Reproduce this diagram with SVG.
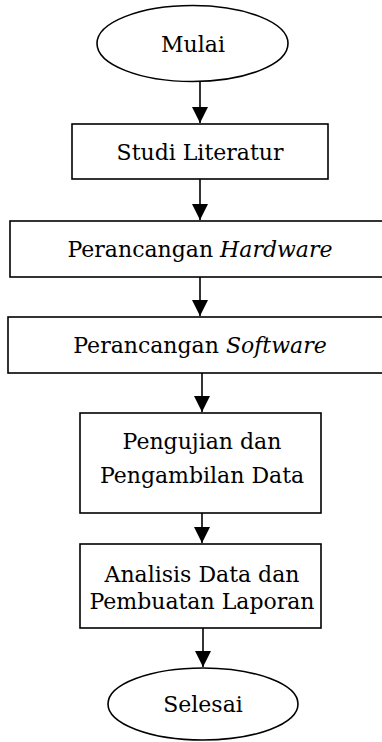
<svg xmlns="http://www.w3.org/2000/svg" width="382" height="742" viewBox="0 0 382 742">
<style>
.n{fill:#fff;stroke:#000;stroke-width:1.6}
.t{font-family:"DejaVu Serif","Liberation Serif",serif;font-size:22px;fill:#000;text-anchor:middle}
.i{font-style:italic}
.c{stroke:#000;stroke-width:1.6;fill:none}
</style>
<defs>
<marker id="ah" markerUnits="userSpaceOnUse" markerWidth="16" markerHeight="16" refX="16" refY="8" orient="auto" viewBox="0 0 16 16">
<path d="M0,0 L16,8 L0,16 Z" fill="#000"/>
</marker>
</defs>
<rect width="382" height="742" fill="#fff"/>
<g id="mulai">
<ellipse class="n" cx="192.5" cy="43.5" rx="95.5" ry="38"/>
<text class="t" x="193" y="51.5">Mulai</text>
</g>
<g id="studi">
<rect class="n" x="72" y="124" width="256" height="55"/>
<text class="t" x="200" y="159.5">Studi Literatur</text>
</g>
<g id="hardware">
<rect class="n" x="10" y="221" width="380" height="56"/>
<text class="t" x="200" y="257">Perancangan <tspan class="i">Hardware</tspan></text>
</g>
<g id="software">
<rect class="n" x="8" y="317" width="382" height="56"/>
<text class="t" x="200" y="353">Perancangan <tspan class="i">Software</tspan></text>
</g>
<g id="pengujian">
<rect class="n" x="80" y="413" width="241" height="100"/>
<text class="t" x="202" y="449">Pengujian dan</text>
<text class="t" x="202" y="483">Pengambilan Data</text>
</g>
<g id="analisis">
<rect class="n" x="80" y="544" width="241" height="84"/>
<text class="t" x="202" y="582">Analisis Data dan</text>
<text class="t" x="202" y="609">Pembuatan Laporan</text>
</g>
<g id="selesai">
<ellipse class="n" cx="203" cy="704" rx="95" ry="36"/>
<text class="t" x="203" y="712">Selesai</text>
</g>
<g id="connectors">
<line class="c" x1="200" y1="82" x2="200" y2="123" marker-end="url(#ah)"/>
<line class="c" x1="200" y1="179" x2="200" y2="220" marker-end="url(#ah)"/>
<line class="c" x1="200" y1="277" x2="200" y2="316" marker-end="url(#ah)"/>
<line class="c" x1="202" y1="373" x2="202" y2="412" marker-end="url(#ah)"/>
<line class="c" x1="202" y1="513" x2="202" y2="543" marker-end="url(#ah)"/>
<line class="c" x1="203" y1="628" x2="203" y2="667" marker-end="url(#ah)"/>
</g>
</svg>
